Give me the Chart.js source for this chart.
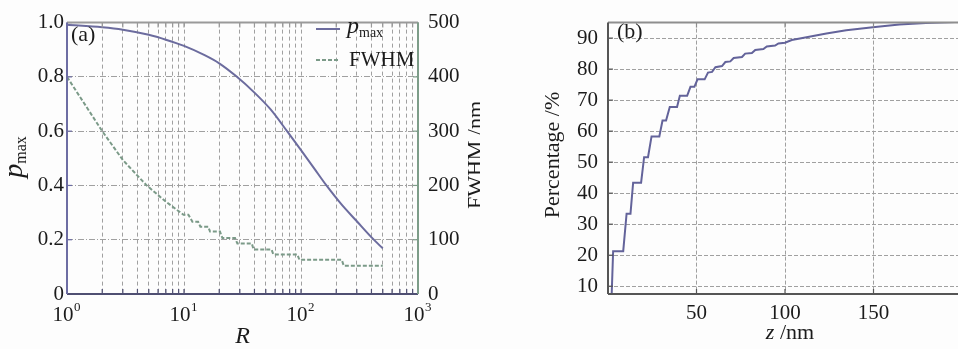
<!DOCTYPE html>
<html>
<head>
<meta charset="utf-8">
<script src="https://cdn.jsdelivr.net/npm/chart.js@4.4.1/dist/chart.umd.min.js"></script>
<style>
  html, body { margin: 0; padding: 0; background: #fdfdfd; overflow: hidden; width: 958px; height: 349px; }
  canvas { position: absolute; top: 0; }
</style>
</head>
<body>
<canvas id="panelA" width="480" height="349" style="left:0"></canvas>
<canvas id="panelB" width="484" height="349" style="left:480px"></canvas>
<script>
// ---- panel (a): p_max and FWHM against R ----
const rPmax = [1, 2, 3, 5, 7, 10, 15, 20, 28, 40, 55, 76, 100, 130, 165, 220, 300, 415, 500];
const pmaxValues = [0.992, 0.983, 0.974, 0.955, 0.937, 0.914, 0.880, 0.850, 0.802, 0.742, 0.680, 0.600, 0.530, 0.462, 0.400, 0.332, 0.268, 0.202, 0.168];

const rFwhm = [1, 2, 3, 4, 4.8, 7, 9.9, 10.9, 11.8, 13.2, 13.8, 16.1, 16.7, 20.3, 21.3, 27.3, 28.6, 38, 39.3, 56, 58, 93, 97, 223, 232, 500];
const fwhmValues = [400, 300, 247, 218, 200, 170, 146, 146, 133, 133, 124, 124, 115, 115, 103, 103, 93, 93, 82, 82, 73, 73, 63, 63, 52, 52];

const pTicks = [0, 0.2, 0.4, 0.6, 0.8, 1.0];
const pTickLabels = ['0', '0.2', '0.4', '0.6', '0.8', '1.0'];
const fwhmTicks = [0, 100, 200, 300, 400, 500];
const rDecades = [1, 10, 100, 1000];
const rDecadeExponents = ['0', '1', '2', '3'];

// ---- panel (b): cumulative percentage against z ----
const zValues = [2.1, 2.9, 8.6, 10.5, 12.7, 14.2, 18.7, 20.4, 22.6, 24.6, 29.0, 30.8, 32.8, 34.9, 39.0, 40.6, 44.7, 46.6, 48.8, 50.6, 54.6, 56.5, 58.8, 60.7, 64.4, 66.3, 69.1, 71.0, 75.7, 77.5, 81.3, 83.2, 87.8, 89.7, 94.4, 96.3, 100, 103.8, 108.4, 115.9, 123.4, 134.6, 149.6, 164.6, 179.6, 196];
const pctValues = [7.7, 21.3, 21.3, 33.4, 33.4, 43.4, 43.4, 51.6, 51.6, 58.3, 58.3, 63.4, 63.4, 67.8, 67.8, 71.4, 71.4, 74.3, 74.3, 76.7, 76.7, 78.9, 79.1, 80.6, 81.0, 82.3, 82.5, 83.6, 83.9, 85.0, 85.2, 86.2, 86.5, 87.3, 87.6, 88.3, 88.5, 89.4, 89.9, 90.7, 91.5, 92.5, 93.5, 94.4, 94.9, 95.2];

const zTicks = [50, 100, 150];
const pctTicks = [10, 20, 30, 40, 50, 60, 70, 80, 90];

const SERIF = '"Liberation Serif", "DejaVu Serif", serif';
const TEXT = '#1b1b1b';
const GRID = '#a0a0a0';
const TICK_SIZE = 21;
const X_LABEL_SHIFT = -4;

function toPoints(xs, ys) {
  return xs.map((x, i) => ({ x: x, y: ys[i] }));
}

// draws a row of text pieces (mixed fonts / subscripts) at x,y
function drawRuns(ctx, parts, x, y, align) {
  ctx.textBaseline = 'middle';
  ctx.textAlign = 'left';
  let total = 0;
  parts.forEach(p => { ctx.font = p.font; total += ctx.measureText(p.t).width; });
  let cx = align === 'left' ? x : x - total / 2;
  parts.forEach(p => {
    ctx.font = p.font;
    ctx.fillStyle = TEXT;
    ctx.fillText(p.t, cx, y + (p.dy || 0));
    cx += ctx.measureText(p.t).width;
  });
}

function drawRotated(ctx, parts, x, y) {
  ctx.save();
  ctx.translate(x, y);
  ctx.rotate(-Math.PI / 2);
  drawRuns(ctx, parts, 0, 0, 'center');
  ctx.restore();
}

function seg(ctx, x1, y1, x2, y2, color) {
  ctx.strokeStyle = color;
  ctx.beginPath();
  ctx.moveTo(x1, y1);
  ctx.lineTo(x2, y2);
  ctx.stroke();
}

function drawFrame(chart, colors, xScale, yScales) {
  const { ctx, chartArea: a } = chart;
  ctx.save();
  ctx.lineWidth = 1.2;
  // small inward ticks
  xScale.ticks.forEach(t => {
    const px = xScale.getPixelForValue(t.value);
    seg(ctx, px, a.bottom, px, a.bottom - 5, colors.bottom);
    seg(ctx, px, a.top, px, a.top + 5, colors.top);
  });
  yScales.forEach(([sc, side]) => {
    sc.ticks.forEach(t => {
      const py = sc.getPixelForValue(t.value);
      if (side === 'left') seg(ctx, a.left, py, a.left + 5, py, colors.left);
      else seg(ctx, a.right, py, a.right - 5, py, colors.right);
    });
  });
  ctx.lineWidth = 2;
  seg(ctx, a.left, a.top, a.right, a.top, colors.top);
  seg(ctx, a.left, a.bottom, a.right, a.bottom, colors.bottom);
  seg(ctx, a.left, a.top, a.left, a.bottom, colors.left);
  seg(ctx, a.right, a.top, a.right, a.bottom, colors.right);
  ctx.restore();
}

const decorA = {
  id: 'decorA',
  afterDraw(chart) {
    const { ctx, chartArea: a, scales } = chart;
    drawFrame(chart, { top: '#9a9a9a', bottom: '#4f4f72', left: '#6d6da3', right: '#7d9d89' },
      scales.x, [[scales.y, 'left'], [scales.y2, 'right']]);

    // exponents of the decade labels
    ctx.font = TICK_SIZE + 'px ' + SERIF;
    const w10 = ctx.measureText('10').width;
    rDecades.forEach((d, i) => {
      const px = scales.x.getPixelForValue(d) + X_LABEL_SHIFT;
      drawRuns(ctx, [{ t: rDecadeExponents[i], font: '13px ' + SERIF }], px + w10 / 2 + 0.5, 308, 'left');
    });

    // axis titles
    drawRuns(ctx, [{ t: 'R', font: 'italic 24px ' + SERIF }], (a.left + a.right) / 2, 337, 'center');
    drawRotated(ctx, [
      { t: 'p', font: 'italic 28px ' + SERIF },
      { t: 'max', font: '16px ' + SERIF, dy: 7 }
    ], 15, 157);
    drawRotated(ctx, [{ t: 'FWHM /nm', font: '22px ' + SERIF }], 476, 155);

    // panel tag
    drawRuns(ctx, [{ t: '(a)', font: '22px ' + SERIF }], 71, 35, 'left');

    // legend
    ctx.save();
    ctx.lineWidth = 2;
    const ds = chart.data.datasets;
    seg(ctx, 316, 29, 340, 29, ds[0].borderColor);
    ctx.setLineDash([4, 2]);
    seg(ctx, 316, 60, 340, 60, ds[1].borderColor);
    ctx.restore();
    drawRuns(ctx, [
      { t: 'p', font: 'italic 24px ' + SERIF },
      { t: 'max', font: '14px ' + SERIF, dy: 6 }
    ], 347, 27, 'left');
    drawRuns(ctx, [{ t: ds[1].label, font: '21px ' + SERIF }], 349, 60, 'left');
  }
};

const decorB = {
  id: 'decorB',
  afterDraw(chart) {
    const { ctx, scales } = chart;
    drawFrame(chart, { top: '#8e8e8e', bottom: '#555', left: '#555', right: '#555' },
      scales.x, [[scales.y, 'left']]);
    drawRuns(ctx, [
      { t: 'z', font: 'italic 22px ' + SERIF },
      { t: ' /nm', font: '22px ' + SERIF }
    ], 310, 333, 'center');
    drawRotated(ctx, [{ t: 'Percentage /%', font: '22px ' + SERIF }], 73, 155);
    drawRuns(ctx, [{ t: '(b)', font: '22px ' + SERIF }], 137, 32, 'left');
  }
};

const tickFont = { family: SERIF, size: TICK_SIZE };

// panel (a)
new Chart(document.getElementById('panelA').getContext('2d'), {
  type: 'line',
  data: {
    datasets: [{
      label: 'p_max',
      data: toPoints(rPmax, pmaxValues),
      yAxisID: 'y',
      borderColor: '#6c6c9e',
      borderWidth: 2,
      pointRadius: 0,
      cubicInterpolationMode: 'monotone'
    }, {
      label: 'FWHM',
      data: toPoints(rFwhm, fwhmValues),
      yAxisID: 'y2',
      borderColor: '#7b9a88',
      borderWidth: 2,
      borderDash: [4, 2],
      pointRadius: 0,
      tension: 0
    }]
  },
  options: {
    responsive: false,
    animation: false,
    layout: { padding: { top: 16 } },
    plugins: { legend: { display: false }, tooltip: { enabled: false } },
    scales: {
      x: {
        type: 'logarithmic',
        min: 1,
        max: 1000,
        afterFit: s => { s.height = 55; },
        afterBuildTicks: s => {
          const ticks = [];
          rDecades.slice(0, -1).forEach(d => {
            for (let m = 1; m < 10; m++) ticks.push({ value: d * m });
          });
          ticks.push({ value: rDecades[rDecades.length - 1] });
          s.ticks = ticks;
        },
        ticks: {
          autoSkip: false,
          maxRotation: 0,
          padding: 9,
          labelOffset: X_LABEL_SHIFT,
          color: TEXT,
          font: tickFont,
          callback: v => (rDecades.indexOf(v) >= 0 ? '10' : '')
        },
        grid: { color: GRID, lineWidth: 1, drawTicks: false },
        border: { display: false, dash: [4, 3] }
      },
      y: {
        position: 'left',
        min: 0,
        max: 1,
        afterFit: s => { s.width = 67; },
        afterBuildTicks: s => { s.ticks = pTicks.map(v => ({ value: v })); },
        ticks: {
          padding: 3,
          color: TEXT,
          font: tickFont,
          callback: (v, i) => pTickLabels[i]
        },
        grid: { color: GRID, lineWidth: 1, drawTicks: false },
        border: { display: false, dash: [6, 2, 1, 2] }
      },
      y2: {
        position: 'right',
        min: 0,
        max: 500,
        afterFit: s => { s.width = 62; },
        afterBuildTicks: s => { s.ticks = fwhmTicks.map(v => ({ value: v })); },
        ticks: { padding: 10, color: TEXT, font: tickFont },
        grid: { display: false, drawTicks: false },
        border: { display: false }
      }
    }
  },
  plugins: [decorA]
});

// panel (b)
new Chart(document.getElementById('panelB').getContext('2d'), {
  type: 'line',
  data: {
    datasets: [{
      label: 'Percentage',
      data: toPoints(zValues, pctValues),
      borderColor: '#63639a',
      borderWidth: 2,
      pointRadius: 0,
      tension: 0
    }]
  },
  options: {
    responsive: false,
    animation: false,
    layout: { padding: { top: 16, right: 2 } },
    plugins: { legend: { display: false }, tooltip: { enabled: false } },
    scales: {
      x: {
        type: 'linear',
        min: 0,
        max: 200,
        afterFit: s => { s.height = 55; },
        afterBuildTicks: s => { s.ticks = zTicks.map(v => ({ value: v })); },
        ticks: { padding: 7, color: TEXT, font: tickFont, maxRotation: 0 },
        grid: { color: GRID, lineWidth: 1, drawTicks: false },
        border: { display: false, dash: [4, 2] }
      },
      y: {
        min: 7.5,
        max: 95,
        afterFit: s => { s.width = 128; },
        afterBuildTicks: s => { s.ticks = pctTicks.map(v => ({ value: v })); },
        ticks: { padding: 10, color: TEXT, font: tickFont },
        grid: { color: GRID, lineWidth: 1, drawTicks: false },
        border: { display: false, dash: [4, 2] }
      }
    }
  },
  plugins: [decorB]
});
</script>
</body>
</html>
